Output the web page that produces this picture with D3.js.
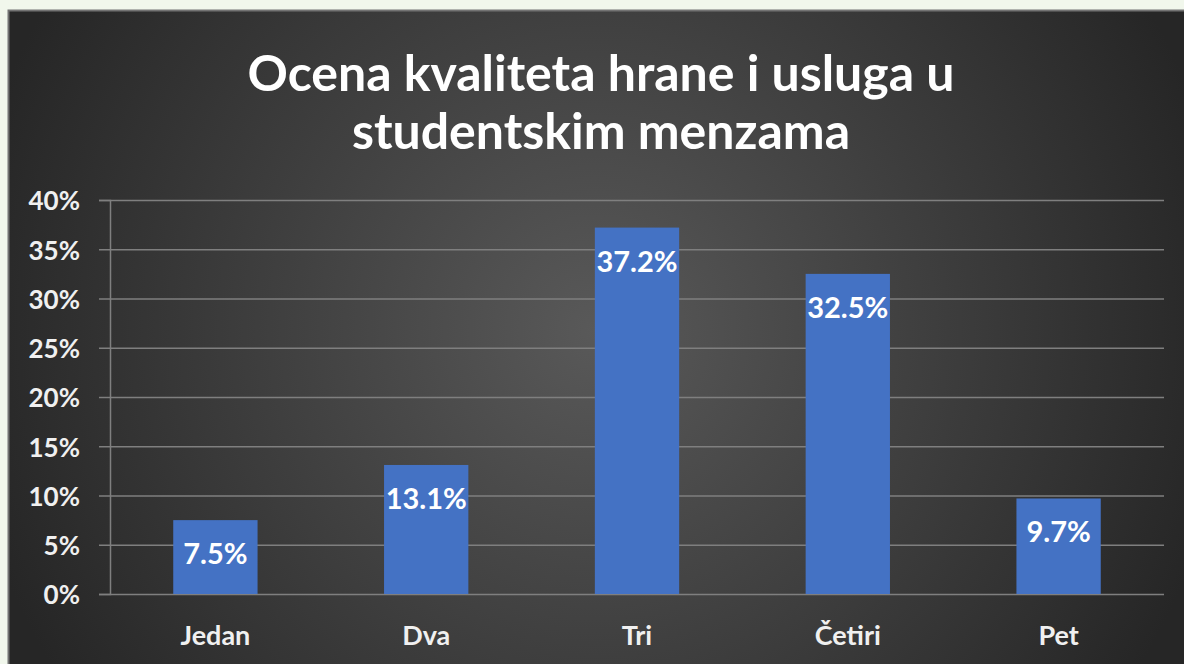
<!DOCTYPE html>
<html lang="sr">
<head>
  <meta charset="UTF-8">
  <title>Ocena kvaliteta hrane i usluga u studentskim menzama</title>
  <script src="https://d3js.org/d3.v7.min.js"></script>
  <style>
    html, body { margin: 0; padding: 0; background: #f1f7ec; }
    svg { display: block; }
  </style>
</head>
<body>
  <svg width="1184" height="664"></svg>
  <script>
    const categories = ["Jedan", "Dva", "Tri", "Četiri", "Pet"];
    const values = [7.5, 13.1, 37.2, 32.5, 9.7];
    const yTicks = [0, 5, 10, 15, 20, 25, 30, 35, 40];
    const titleLines = ["Ocena kvaliteta hrane i usluga u", "studentskim menzama"];

    const svg = d3.select("svg");
    const font = "Lato, 'Open Sans', sans-serif";

    const defs = svg.append("defs");
    const grad = defs.append("radialGradient")
        .attr("id", "bg")
        .attr("gradientUnits", "userSpaceOnUse")
        .attr("cx", 596).attr("cy", 330).attr("r", 640);
    grad.append("stop").attr("offset", "0%").attr("stop-color", "#595959");
    grad.append("stop").attr("offset", "100%").attr("stop-color", "#262626");

    // panel
    svg.append("rect")
        .attr("x", 8.5).attr("y", 10.5)
        .attr("width", 1190).attr("height", 670)
        .attr("fill", "url(#bg)")
        .attr("stroke", "#737373")
        .attr("stroke-width", 2);

    const x = d3.scaleBand()
        .domain(categories)
        .range([110, 1164])
        .paddingInner(0.6)
        .paddingOuter(0.3);
    const y = d3.scaleLinear().domain([0, 40]).range([594, 200]);

    // title
    svg.append("g")
        .attr("font-family", font)
        .attr("font-weight", 700)
        .attr("font-size", 50)
        .attr("fill", "#ffffff")
        .attr("text-anchor", "middle")
      .selectAll("text")
      .data(titleLines)
      .join("text")
        .attr("x", 601)
        .attr("y", (d, i) => 91 + i * 58)
        .text(d => d);

    // grid
    const yAxis = svg.append("g")
        .attr("transform", "translate(110,0)")
        .call(d3.axisLeft(y).tickValues(yTicks).tickSize(11).tickFormat(d => d + "%"));
    yAxis.select(".domain").attr("stroke", "#7f7f7f").attr("stroke-width", 1.5);
    yAxis.selectAll(".tick line").attr("stroke", "#7f7f7f").attr("stroke-width", 1.5);
    yAxis.selectAll(".tick").append("line")
        .attr("x1", 0).attr("x2", 1054)
        .attr("stroke", "#7f7f7f").attr("stroke-width", 1.5);
    yAxis.selectAll(".tick text")
        .attr("x", -30)
        .attr("dy", "0.38em")
        .attr("fill", "#f0f0f0")
        .attr("font-family", font)
        .attr("font-weight", 700)
        .attr("font-size", 26);

    // bars
    svg.append("g")
      .selectAll("rect")
      .data(values)
      .join("rect")
        .attr("x", (d, i) => x(categories[i]))
        .attr("y", d => y(d))
        .attr("width", x.bandwidth())
        .attr("height", d => y(0) - y(d))
        .attr("fill", "#4472c4");

    // value labels
    svg.append("g")
        .attr("font-family", font)
        .attr("font-weight", 700)
        .attr("font-size", 29)
        .attr("fill", "#ffffff")
        .attr("text-anchor", "middle")
      .selectAll("text")
      .data(values)
      .join("text")
        .attr("x", (d, i) => x(categories[i]) + x.bandwidth() / 2)
        .attr("y", d => y(d) + 44)
        .text(d => d.toFixed(1) + "%");

    // category labels
    svg.append("g")
        .attr("font-family", font)
        .attr("font-weight", 700)
        .attr("font-size", 27)
        .attr("fill", "#f0f0f0")
        .attr("text-anchor", "middle")
      .selectAll("text")
      .data(categories)
      .join("text")
        .attr("x", d => x(d) + x.bandwidth() / 2)
        .attr("y", 645)
        .text(d => d);
  </script>
</body>
</html>
